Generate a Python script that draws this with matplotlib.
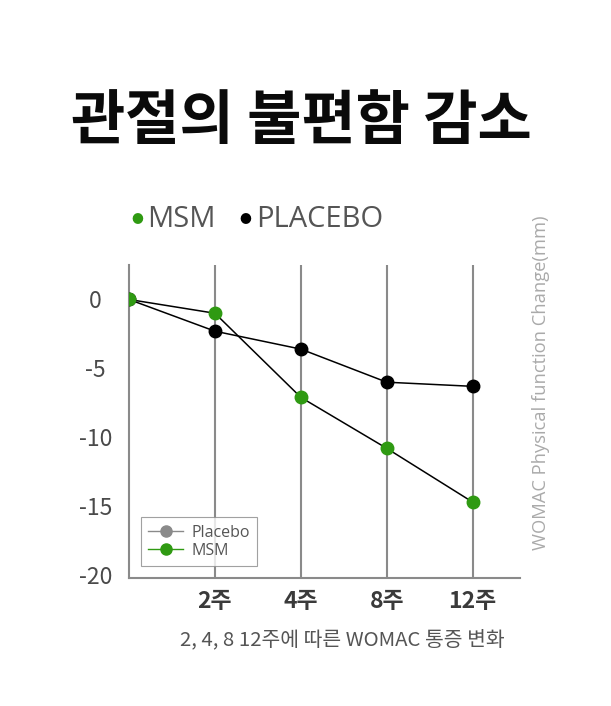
import matplotlib
matplotlib.use("Agg")
import matplotlib.pyplot as plt
from matplotlib.lines import Line2D

plt.rcParams['font.family'] = ['Noto Sans CJK KR', 'DejaVu Sans']

# data
weeks = ["", "2주", "4주", "8주", "12주"]
msm = [0, -1.0, -7.1, -10.8, -14.7]
placebo = [0, -2.3, -3.6, -6.0, -6.3]
yticks = [0, -5, -10, -15, -20]

GREEN = "#2f9a12"
GRID = "#8a8a8a"

fig = plt.figure(figsize=(6.11, 7.06), dpi=100)
ax = fig.add_axes([129/611, 1 - 578/706, (520 - 129)/611, (578 - 265)/706])

x = list(range(len(weeks)))
ax.plot(x, placebo, color="black", lw=1.1, marker="o", ms=9, mfc="black", mec="black", zorder=3)
ax.plot(x, msm, color="black", lw=1.1, marker="o", ms=9, mfc=GREEN, mec=GREEN, zorder=4)

ax.set_xlim(0, 4.55)
ax.set_ylim(-20.2, 2.5)
ax.set_xticks(x[1:])
ax.set_xticklabels(weeks[1:], fontsize=16.5, fontweight="bold", color="#3a3a3a")
ax.set_yticks(yticks)
ax.set_yticklabels([str(v) for v in yticks], fontsize=16.5, color="#4a4a4a", fontweight="medium")
ax.tick_params(length=0)
ax.tick_params(axis="x", pad=9)
ax.tick_params(axis="y", pad=24)
for lab in ax.get_yticklabels():
    lab.set_horizontalalignment("center")

for xi in x[1:]:
    ax.axvline(xi, color=GRID, lw=1.5, zorder=1)
for s in ["top", "right"]:
    ax.spines[s].set_visible(False)
for s in ["left", "bottom"]:
    ax.spines[s].set_color(GRID)
    ax.spines[s].set_linewidth(1.5)

handles = [
    Line2D([], [], color="#8a8a8a", lw=1, marker="o", ms=8, mfc="#8a8a8a", mec="#8a8a8a"),
    Line2D([], [], color=GREEN, lw=1, marker="o", ms=8, mfc=GREEN, mec=GREEN),
]
leg = ax.legend(handles, ["Placebo", "MSM"], loc="lower left", bbox_to_anchor=(0.031, 0.038),
                borderaxespad=0, fontsize=11.5, frameon=True, fancybox=False, handlelength=2.2,
                handletextpad=0.5, labelspacing=0.15, borderpad=0.45, labelcolor="#555555",
                prop={"family": ["Open Sans", "DejaVu Sans"], "size": 11.5})
leg.get_frame().set_edgecolor("#8a8a8a")
leg.get_frame().set_linewidth(0.8)

# title
fig.text(0.493, 1 - 122/706, "관절의 불편함 감소", ha="center", va="center",
         fontsize=42.5, fontweight="bold", color="#0a0a0a")

# top legend
fig.text(137/611, 1 - 220/706, "●", ha="center", va="center", fontsize=8.5, color=GREEN)
fig.text(147/611, 1 - 220/706, "MSM", ha="left", va="center", fontsize=21, color="#555555",
         family=["Open Sans", "DejaVu Sans"])
fig.text(245/611, 1 - 220/706, "●", ha="center", va="center", fontsize=8.5, color="black")
fig.text(256/611, 1 - 220/706, "PLACEBO", ha="left", va="center", fontsize=21, color="#555555",
         family=["Open Sans", "DejaVu Sans"])

# right axis title
fig.text(541/611, 1 - 550/706, "WOMAC Physical function Change(mm)", rotation=90,
         ha="center", va="bottom", fontsize=13.2, color="#aaaaaa",
         family=["Open Sans", "DejaVu Sans"])

# caption
fig.text(342/611, 1 - 640/706, "2, 4, 8 12주에 따른 WOMAC 통증 변화", ha="center", va="center",
         fontsize=14.7, color="#555555", fontweight="light")

fig.savefig("out.png", dpi=100, facecolor="white")
